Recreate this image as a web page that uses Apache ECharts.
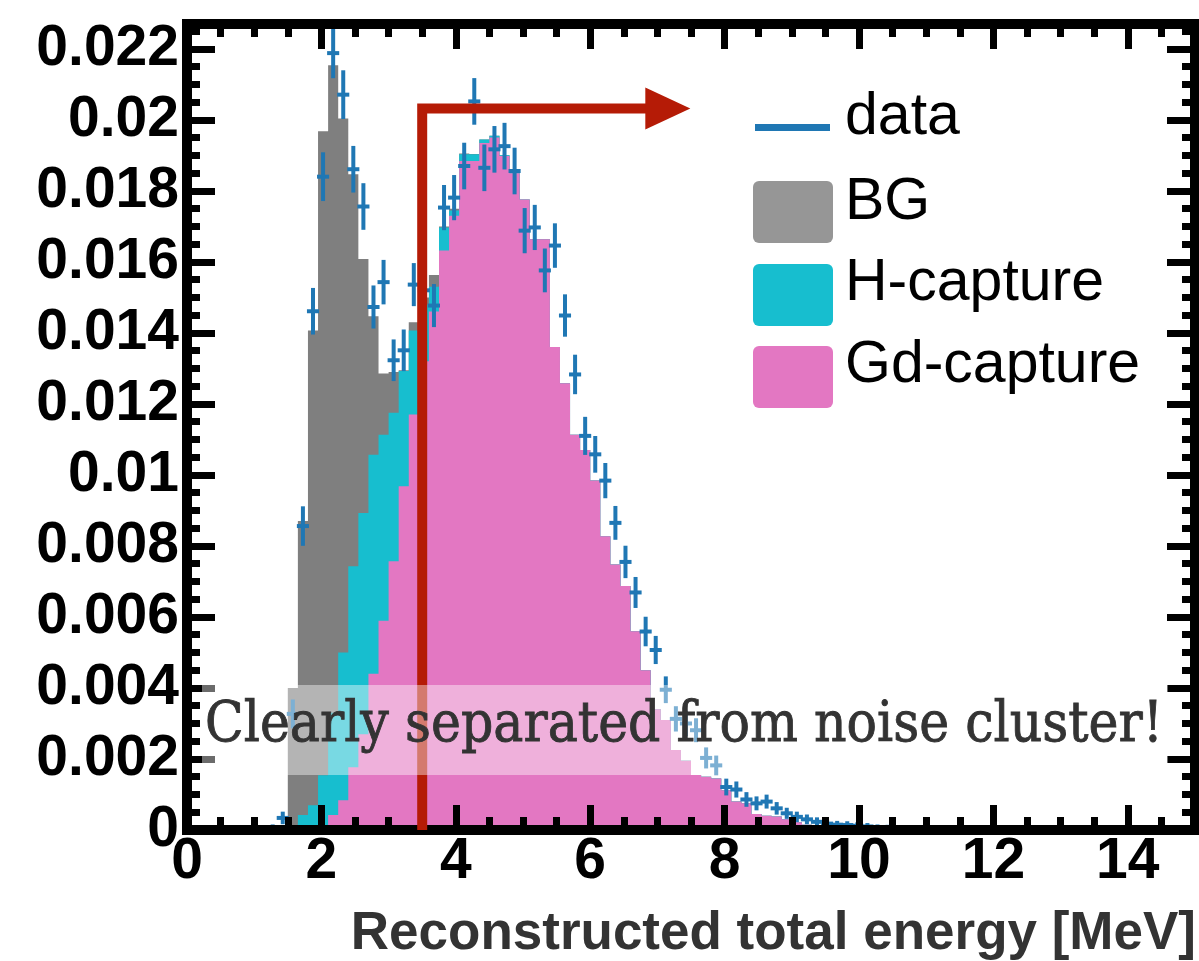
<!DOCTYPE html>
<html><head><meta charset="utf-8">
<script src="https://cdn.jsdelivr.net/npm/echarts@6/dist/echarts.min.js"></script>
<style>html,body{margin:0;padding:0;background:#fff}#c{width:1199px;height:961px}</style>
</head><body><div id="c"></div>
<script>
// ---- histogram binning (MeV) ----
const binStart = 1.2;
const binWidth = 0.15;
// stacked MC components per bin (bins from 1.2 MeV upward)
const gdCapture = [0,0,0,0,0,0.0001,0.00042,0.00084,0.00177,0.0027,
  0.0044,0.00589,0.00757,0.00968,0.0117,0.0132,0.0146,0.01632,0.0173,0.01884,
  0.01884,0.01935,0.0195,0.01898,0.0185,0.01776,0.01664,0.01664,0.0136,0.01258,
  0.01113,0.0107,0.00984,0.00827,0.00748,0.00687,0.0056,0.0045,0.0034,0.0031,
  0.00225,0.00195,0.00155,0.0015,0.00145,0.00112,0.0008,0.00075,0.00045,0.0004,
  0.00038,0.0003,0.00022,0.00015,0.00012,0.00008,0.00005,0.00003,0,0,
  0,0,0,0,0];
const hCapture = [0,0,0.0001,0.00042,0.0007,0.00144,0.00288,0.00416,0.00566,0.00623,
  0.00617,0.00524,0.00418,0.00325,0.00237,0.0016,0.0007,0.00065,0.00015,0.00019,
  0.00019,0.0001,0.00005,0.00002,0.00002,0,0,0,0,0,
  0,0,0,0,0,0,0,0,0,0,
  0,0,0,0,0,0,0,0,0,0,
  0,0,0,0,0,0,0,0,0,0,
  0,0,0,0,0];
const bgCounts = [0,0,0.0039,0.00828,0.01337,0.01814,0.01824,0.01504,0.01104,0.00715,
  0.0039,0.00173,0.00115,0.00002,0.00023,0.0002,0.00033,0.00003,0.00005,0.00002,
  0.00001,0,0,0,0,0,0,0,0,0,
  0,0,0,0,0,0,0,0,0,0,
  0,0,0,0,0,0,0,0,0,0,
  0,0,0,0,0,0,0,0,0,0,
  0,0,0,0,0];
// measured data (bin centres) and their uncertainties
const dataValues = [0.00005,0.00034,0.00327,0.00856,0.01461,0.0184,0.02188,0.02071,0.01861,0.01756,
  0.01473,0.01543,0.01323,0.01351,0.01536,0.0152,0.01477,0.01753,0.01781,0.0187,
  0.02052,0.01865,0.01917,0.01926,0.01856,0.01688,0.01697,0.01576,0.01646,0.01449,
  0.01283,0.0111,0.01058,0.00984,0.00865,0.00755,0.00669,0.00559,0.00507,0.00395,
  0.00313,0.003,0.00281,0.00203,0.00182,0.00121,0.00114,0.00086,0.00075,0.0008,
  0.00061,0.00047,0.00037,0.0003,0.00023,0.00018,0.00015,0.00014,0.00012,0.0001,
  0.00007,0.00006,0.00005,0.00004,0.00003];
const dataErrors = [0.00005,0.00012,0.00035,0.0005,0.0006,0.00063,0.00065,0.00063,0.0006,0.0006,
  0.00055,0.00057,0.00053,0.00053,0.00055,0.00055,0.00055,0.00058,0.00058,0.0006,
  0.0006,0.0006,0.0006,0.0006,0.0006,0.00058,0.00058,0.00056,0.00057,0.00054,
  0.0005,0.00048,0.00046,0.00044,0.00042,0.0004,0.00038,0.00036,0.00034,0.00032,
  0.0003,0.0003,0.00028,0.00024,0.00022,0.00018,0.00017,0.00015,0.00014,0.00014,
  0.00012,0.0001,0.00009,0.00008,0.00007,0.00006,0.00005,0.00005,0.00004,0.00004,
  0.00003,0.00003,0.00003,0.00002,0.00002];
// axes
const xRange = [0, 15];
const yRange = [0, 0.0227];
const xMajor = 2, xMinor = 0.5;
const yMajor = 0.002, yMinor = 0.0005;
// legend labels & annotation
const legendLabels = ['data', 'BG', 'H-capture', 'Gd-capture'];
const xTitle = 'Reconstructed total energy [MeV]';
const noteText = 'Clearly separated from noise cluster!';
// cut arrow: [x of cut, y level, end of shaft, head base, head tip, head half-height]
const arrowSpec = [3.5, 0.02032, 6.9, 6.82, 7.49, 0.00059];

const C = {blue:'#1f77b4', gray:'#7f7f7f', grayLeg:'#969696', cyan:'#17becf', pink:'#e377c2', red:'#b51b06'};

const chart = echarts.init(document.getElementById('c'), null, {renderer:'canvas'});

const axisFont = {fontFamily:'Liberation Sans, Arial, sans-serif', fontWeight:'bold', fontSize:57, color:'#000'};
function isMult(v, step){ const r = v/step; return Math.abs(r-Math.round(r)) < 1e-6; }

function mkX(pos, interval, len, showLine, showLabel){
  return {type:'value', position:pos, min:xRange[0], max:xRange[1], interval:interval, z:10,
    axisLine:{show:showLine, onZero:false, lineStyle:{color:'#000', width:10, cap:'square'}},
    axisTick:{show:true, inside:true, length:len, lineStyle:{color:'#000', width:7}},
    axisLabel:showLabel ? Object.assign({margin:4, formatter:v=> isMult(v,xMajor)? String(Math.round(v)) : ''}, axisFont) : {show:false},
    splitLine:{show:false}};
}
function mkY(pos, interval, len, showLine, showLabel){
  return {type:'value', position:pos, min:yRange[0], max:yRange[1], interval:interval, z:10,
    axisLine:{show:showLine, onZero:false, lineStyle:{color:'#000', width:10, cap:'square'}},
    axisTick:{show:true, inside:true, length:len, lineStyle:{color:'#000', width:7}},
    axisLabel:showLabel ? Object.assign({margin:8, formatter:v=> isMult(v,yMajor)? String(+v.toFixed(3)) : ''}, axisFont) : {show:false},
    splitLine:{show:false}};
}

const n = gdCapture.length;
function histRender(params, api){
  const total = [], gdh = [], gd = [];
  for (let i=0;i<n;i++){ gd.push(gdCapture[i]); gdh.push(gdCapture[i]+hCapture[i]); total.push(gdCapture[i]+hCapture[i]+bgCounts[i]); }
  const layers = [[total, C.gray],[gdh, C.cyan],[gd, C.pink]];
  const children = layers.map(([arr,col])=>{
    const pts = [api.coord([binStart,0])];
    for (let i=0;i<n;i++){
      const x0 = binStart+i*binWidth, x1 = x0+binWidth;
      pts.push(api.coord([x0,arr[i]]), api.coord([x1,arr[i]]));
    }
    pts.push(api.coord([binStart+n*binWidth,0]));
    return {type:'polygon', shape:{points:pts}, style:{fill:col}};
  });
  return {type:'group', children};
}

const dataItems = dataValues.map((v,i)=>[binStart+(i+0.5)*binWidth, v, dataErrors[i]]);
function crossRender(params, api){
  const x = api.value(0), y = api.value(1), e = api.value(2);
  const hw = binWidth*0.6;
  const l = api.coord([x-hw,y]), r = api.coord([x+hw,y]);
  const t = api.coord([x,y+e]), b = api.coord([x,y-e]);
  const st = {stroke:C.blue, lineWidth:4};
  return {type:'group', children:[
    {type:'line', shape:{x1:l[0],y1:l[1],x2:r[0],y2:r[1]}, style:st},
    {type:'line', shape:{x1:t[0],y1:t[1]-2,x2:b[0],y2:b[1]+2}, style:st}]};
}

function arrowRender(params, api){
  const [ax, ay, aEnd, hb, ht, hh] = arrowSpec;
  const p0 = api.coord([ax, 0]), p1 = api.coord([ax, ay]), p2 = api.coord([aEnd, ay]);
  const h1 = api.coord([hb, ay+hh]), h2 = api.coord([ht, ay]), h3 = api.coord([hb, ay-hh]);
  return {type:'group', children:[
    {type:'polyline', shape:{points:[p0,p1,p2]}, style:{stroke:C.red, lineWidth:10, lineJoin:'miter', lineCap:'butt', fill:null}},
    {type:'polygon', shape:{points:[h1,h2,h3]}, style:{fill:C.red}}]};
}

// measure annotation text to fit its band
const cv = document.createElement('canvas').getContext('2d');
const noteFont = '56px "DejaVu Serif"';
cv.font = noteFont;
const noteW = cv.measureText(noteText).width;
const noteScale = 958/noteW;

const legFontStr = '59px "Liberation Sans", Arial, sans-serif';

const graphics = [
  // legend
  {type:'rect', left:755, top:124, shape:{width:75, height:7}, style:{fill:C.blue}, z:30},
  {type:'rect', left:753, top:181, shape:{width:80, height:62, r:6}, style:{fill:C.grayLeg}, z:30},
  {type:'rect', left:753, top:264, shape:{width:80, height:62, r:6}, style:{fill:C.cyan}, z:30},
  {type:'rect', left:753, top:346, shape:{width:80, height:62, r:6}, style:{fill:C.pink}, z:30},
  {type:'text', x:845, y:118, style:{text:legendLabels[0], font:legFontStr, fill:'#000', verticalAlign:'middle'}, z:30},
  {type:'text', x:845, y:203, style:{text:legendLabels[1], font:legFontStr, fill:'#000', verticalAlign:'middle'}, z:30},
  {type:'text', x:845, y:284, style:{text:legendLabels[2], font:legFontStr, fill:'#000', verticalAlign:'middle'}, z:30},
  {type:'text', x:845, y:366, style:{text:legendLabels[3], font:legFontStr, fill:'#000', verticalAlign:'middle'}, z:30},
  // x axis title
  {type:'text', x:1196, y:934, style:{text:xTitle, font:'bold 53px "Liberation Sans", Arial, sans-serif', fill:'#333', align:'right', verticalAlign:'middle'}, z:30},
  // translucent band + note
  {type:'rect', left:202, top:685, shape:{width:966, height:90}, style:{fill:'rgba(255,255,255,0.42)'}, z:100},
  {type:'text', x:205, y:726, scaleX:noteScale, originX:0, originY:0,
    style:{text:noteText, font:noteFont, fill:'#333', stroke:'#333', lineWidth:0.9, verticalAlign:'middle'}, z:101}
];

chart.setOption({
  animation:false,
  backgroundColor:'#fff',
  grid:{left:187, right:4, top:24, bottom:131, containLabel:false},
  xAxis:[mkX('bottom', xMajor, 25, true, true), mkX('bottom', xMinor, 13, false, false),
         mkX('top', xMajor, 25, true, false), mkX('top', xMinor, 13, false, false)],
  yAxis:[mkY('left', yMajor, 28, true, true), mkY('left', yMinor, 13, false, false),
         mkY('right', yMajor, 28, true, false), mkY('right', yMinor, 13, false, false)],
  series:[
    {type:'custom', name:'MC', coordinateSystem:'cartesian2d', xAxisIndex:0, yAxisIndex:0, z:2,
      data:[[binStart,0]], renderItem:histRender, silent:true},
    {type:'custom', name:'data', coordinateSystem:'cartesian2d', xAxisIndex:0, yAxisIndex:0, z:3,
      data:dataItems, renderItem:crossRender, silent:true},
    {type:'custom', name:'cut', coordinateSystem:'cartesian2d', xAxisIndex:0, yAxisIndex:0, z:20,
      data:[[arrowSpec[0], 0]], renderItem:arrowRender, silent:true}
  ],
  graphic:graphics
});
</script>
</body></html>
